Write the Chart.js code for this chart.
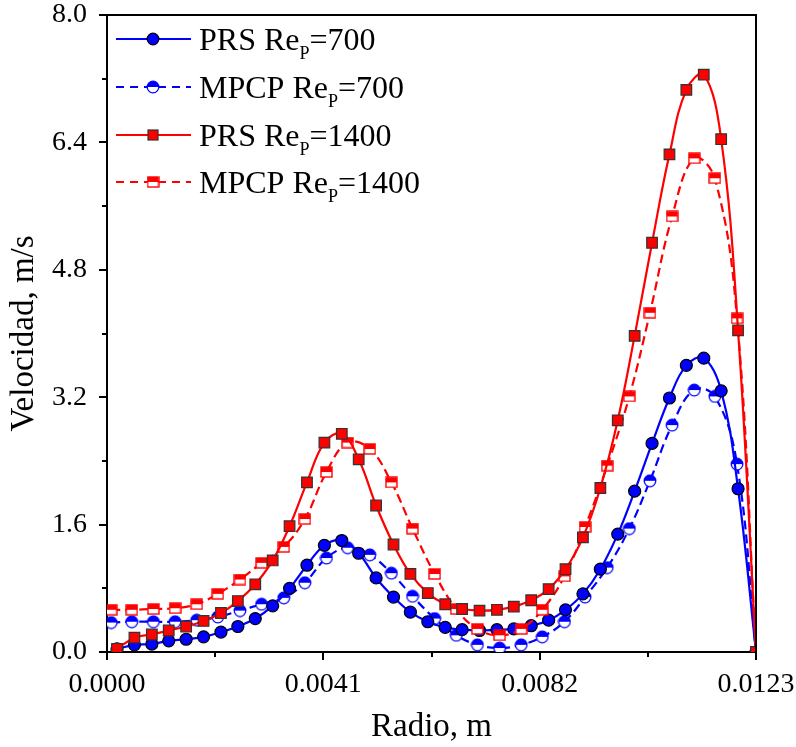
<!DOCTYPE html>
<html><head><meta charset="utf-8">
<script src="https://cdn.jsdelivr.net/npm/chart.js@4/dist/chart.umd.min.js"></script>
<style>html,body{margin:0;padding:0;background:#fff;}#wrap{width:796px;height:747px;}</style>
</head><body><div id="wrap"><canvas id="c" width="796" height="747"></canvas></div>
<script>
// ---- data ----
const prsX = [0.00019,0.00052,0.00085,0.00117,0.0015,0.00183,0.00216,0.00248,0.00281,0.00314,
  0.00346,0.00379,0.00412,0.00445,0.00477,0.0051,0.00543,0.00575,0.00608,0.00641,
  0.00673,0.00706,0.00739,0.00771,0.00804,0.00837,0.00869,0.00902,0.00935,0.00968,
  0.01,0.01033,0.01066,0.01098,0.01131,0.01164,0.01196,0.0123];
const prs700 = [0.04,0.09,0.10,0.14,0.16,0.19,0.25,0.32,0.42,0.58,
  0.80,1.09,1.34,1.40,1.24,0.93,0.69,0.50,0.38,0.31,
  0.28,0.27,0.28,0.29,0.33,0.40,0.53,0.73,1.04,1.48,
  2.02,2.62,3.19,3.60,3.69,3.28,2.05,0.0];
const prs1400 = [0.04,0.18,0.22,0.27,0.32,0.39,0.49,0.64,0.85,1.15,
  1.58,2.13,2.63,2.74,2.42,1.84,1.35,0.98,0.74,0.60,
  0.54,0.52,0.53,0.57,0.65,0.79,1.04,1.44,2.06,2.91,
  3.97,5.14,6.25,7.06,7.25,6.44,4.04,0.0];
const mpcpX = [0.00008,0.00047,0.00088,0.00129,0.0017,0.0021,0.00252,0.00293,0.00335,0.00375,
  0.00416,0.00456,0.00498,0.00539,0.00579,0.00621,0.00662,0.00702,0.00744,0.00785,
  0.00825,0.00867,0.00906,0.00948,0.0099,0.01029,0.01071,0.01113,0.01152,0.01194,0.0123];
const mpcp700 = [0.37,0.38,0.38,0.38,0.40,0.44,0.52,0.60,0.68,0.87,
  1.18,1.31,1.22,0.99,0.70,0.42,0.21,0.09,0.05,0.09,
  0.19,0.38,0.69,1.06,1.55,2.15,2.85,3.29,3.21,2.36,0.0];
const mpcp1400 = [0.53,0.53,0.54,0.55,0.60,0.73,0.91,1.12,1.32,1.67,
  2.26,2.63,2.55,2.13,1.55,0.98,0.54,0.29,0.21,0.29,
  0.53,0.95,1.57,2.34,3.21,4.26,5.47,6.20,5.95,4.19,0.0];
const xMajor = [0, 0.0041, 0.0082, 0.0123];
const xMinor = [0.00205, 0.00615, 0.01025];
const yMajor = [0, 1.6, 3.2, 4.8, 6.4, 8.0];
const yMinor = [0.8, 2.4, 4.0, 5.6, 7.2];
const legendMain = ['PRS Re', 'MPCP Re', 'PRS Re', 'MPCP Re'];
const legendSub = ['P', 'P', 'P', 'P'];
const legendTail = ['=700', '=700', '=1400', '=1400'];
const xTitle = 'Radio, m';
const yTitle = 'Velocidad, m/s';

// ---- styles ----
const BLUE = '#0000ff', RED = '#ff0000';
const FONT = '"Liberation Serif", "Times New Roman", serif';

function halfCircle(color) {
  const c = document.createElement('canvas'); c.width = 14; c.height = 14;
  const g = c.getContext('2d'); const cx = 7, cy = 7, r = 5.8;
  g.fillStyle = '#fff'; g.beginPath(); g.arc(cx, cy, r, 0, Math.PI * 2); g.fill();
  g.fillStyle = color; g.beginPath(); g.arc(cx, cy, r, Math.PI, Math.PI * 2); g.closePath(); g.fill();
  g.strokeStyle = color; g.lineWidth = 1.3; g.beginPath(); g.arc(cx, cy, r, 0, Math.PI * 2); g.stroke();
  return c;
}
function halfSquare(color) {
  const c = document.createElement('canvas'); c.width = 13; c.height = 12;
  const g = c.getContext('2d');
  g.fillStyle = '#fff'; g.fillRect(1, 1, 11, 10);
  g.fillStyle = color; g.fillRect(1, 1, 11, 5);
  g.strokeStyle = color; g.lineWidth = 1.4; g.strokeRect(1, 1, 11, 10);
  return c;
}
const mkHalfCircle = halfCircle(BLUE);
const mkHalfSquare = halfSquare(RED);

const pts = (xs, ys) => xs.map((x, i) => ({x: x, y: ys[i]}));

const datasets = [
  {label: 'PRS 1400', data: pts(prsX, prs1400), borderColor: RED, borderWidth: 2.2, tension: 0.4,
   pointStyle: 'rect', pointRadius: 7.5, pointBackgroundColor: RED, pointBorderColor: '#333', pointBorderWidth: 1.2, order: 0},
  {label: 'MPCP 1400', data: pts(mpcpX, mpcp1400), borderColor: RED, borderWidth: 2.2, borderDash: [9, 5], tension: 0.4,
   pointStyle: mkHalfSquare, pointRadius: 6, order: 1},
  {label: 'PRS 700', data: pts(prsX, prs700), borderColor: BLUE, borderWidth: 2.2, tension: 0.4,
   pointStyle: 'circle', pointRadius: 6, pointBackgroundColor: BLUE, pointBorderColor: '#000', pointBorderWidth: 1.2, order: 2},
  {label: 'MPCP 700', data: pts(mpcpX, mpcp700), borderColor: BLUE, borderWidth: 2.2, borderDash: [9, 5], tension: 0.4,
   pointStyle: mkHalfCircle, pointRadius: 6, order: 3}
];

const framePlugin = {
  id: 'frame',
  afterDraw(chart) {
    const ctx = chart.ctx, a = chart.chartArea, xs = chart.scales.x, ys = chart.scales.y;
    ctx.save();
    ctx.strokeStyle = '#000'; ctx.lineWidth = 2;
    ctx.beginPath();
    ctx.moveTo(a.left - 1, a.top); ctx.lineTo(a.right, a.top); ctx.lineTo(a.right, a.bottom + 1);
    ctx.stroke();
    // ticks (outside)
    ctx.beginPath();
    xMajor.forEach(v => { const p = Math.round(xs.getPixelForValue(v)); ctx.moveTo(p, a.bottom); ctx.lineTo(p, a.bottom + 8); });
    xMinor.forEach(v => { const p = Math.round(xs.getPixelForValue(v)); ctx.moveTo(p, a.bottom); ctx.lineTo(p, a.bottom + 5); });
    yMajor.forEach(v => { const p = Math.round(ys.getPixelForValue(v)); ctx.moveTo(a.left, p); ctx.lineTo(a.left - 8, p); });
    yMinor.forEach(v => { const p = Math.round(ys.getPixelForValue(v)); ctx.moveTo(a.left, p); ctx.lineTo(a.left - 5, p); });
    ctx.stroke();
    // legend
    const rows = [39, 87, 135, 182];
    const colors = [BLUE, BLUE, RED, RED];
    const dashed = [false, true, false, true];
    rows.forEach((ry, i) => {
      ctx.strokeStyle = colors[i]; ctx.lineWidth = 2.2;
      ctx.setLineDash(dashed[i] ? [8, 6] : []);
      ctx.beginPath(); ctx.moveTo(116, ry); ctx.lineTo(191, ry); ctx.stroke();
      ctx.setLineDash([]);
      if (i === 0) {
        ctx.fillStyle = BLUE; ctx.strokeStyle = '#000'; ctx.lineWidth = 1.2;
        ctx.beginPath(); ctx.arc(153, ry, 5.8, 0, Math.PI * 2); ctx.fill(); ctx.stroke();
      } else if (i === 1) {
        ctx.drawImage(mkHalfCircle, 153 - 7, ry - 7);
      } else if (i === 2) {
        ctx.fillStyle = RED; ctx.strokeStyle = '#333'; ctx.lineWidth = 1.2;
        ctx.fillRect(148, ry - 5, 10, 10); ctx.strokeRect(148, ry - 5, 10, 10);
      } else {
        ctx.drawImage(mkHalfSquare, 153 - 6.5, ry - 6);
      }
      const base = ry + 11;
      ctx.fillStyle = '#000'; ctx.textBaseline = 'alphabetic'; ctx.textAlign = 'left';
      ctx.font = '32px ' + FONT;
      let x = 199;
      ctx.fillText(legendMain[i], x, base); x += ctx.measureText(legendMain[i]).width;
      ctx.font = '18px ' + FONT;
      ctx.fillText(legendSub[i], x, base + 9); x += ctx.measureText(legendSub[i]).width;
      ctx.font = '32px ' + FONT;
      ctx.fillText(legendTail[i], x, base);
    });
    ctx.restore();
  }
};

new Chart(document.getElementById('c'), {
  type: 'line',
  data: {datasets: datasets},
  options: {
    responsive: false, animation: false, devicePixelRatio: 1,
    layout: {padding: {top: 15, right: 40, left: 0, bottom: 0}},
    plugins: {legend: {display: false}, tooltip: {enabled: false}},
    scales: {
      x: {
        type: 'linear', min: 0, max: 0.0123,
        afterBuildTicks: s => { s.ticks = xMajor.map(v => ({value: v})); },
        afterFit: s => { s.height = 95; s.paddingLeft = 0; s.paddingRight = 0; },
        ticks: {callback: v => Number(v).toFixed(4), font: {family: FONT, size: 28}, color: '#000', padding: 8, maxRotation: 0, autoSkip: false},
        grid: {display: false},
        border: {display: true, color: '#000', width: 2},
        title: {display: true, text: xTitle, font: {family: FONT, size: 33}, color: '#000', padding: {top: 0, bottom: 0}}
      },
      y: {
        type: 'linear', min: 0, max: 8.0,
        afterBuildTicks: s => { s.ticks = yMajor.map(v => ({value: v})); },
        afterFit: s => { s.width = 107; s.paddingTop = 0; s.paddingBottom = 0; },
        ticks: {callback: v => Number(v).toFixed(1), font: {family: FONT, size: 28}, color: '#000', padding: 12, autoSkip: false},
        grid: {display: false},
        border: {display: true, color: '#000', width: 2},
        title: {display: true, text: yTitle, font: {family: FONT, size: 33}, color: '#000', padding: {top: 5, bottom: 0}}
      }
    }
  },
  plugins: [framePlugin]
});
</script>
</body></html>
